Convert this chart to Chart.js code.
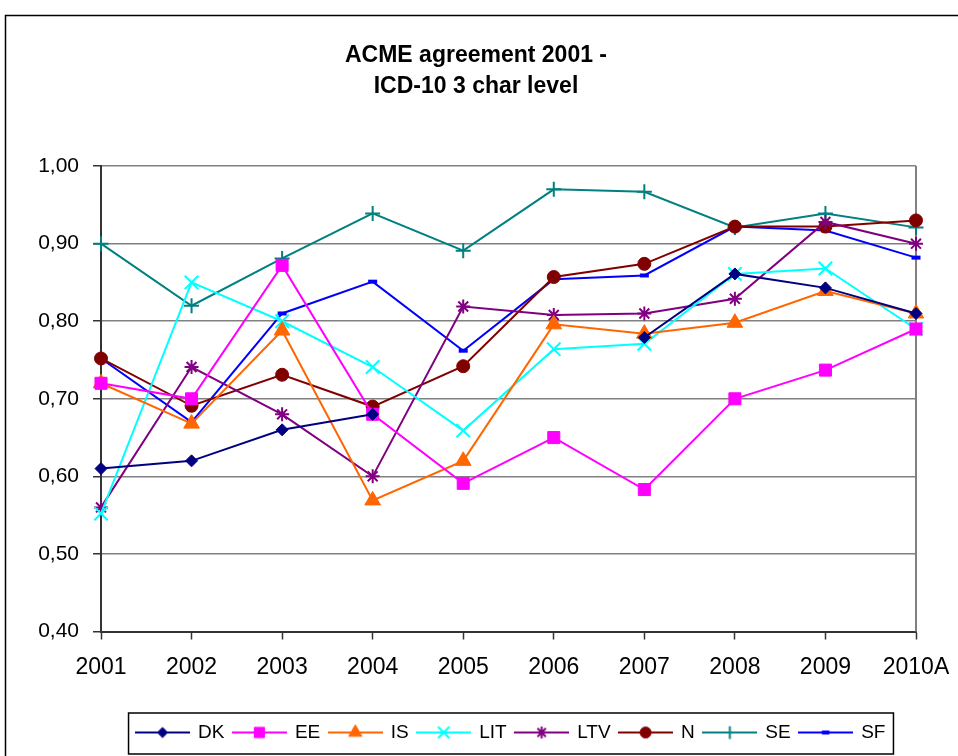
<!DOCTYPE html>
<html>
<head>
<meta charset="utf-8">
<script src="https://cdn.jsdelivr.net/npm/chart.js"></script>
<style>
  body { margin: 0; background: #fff; }
  canvas { display: block; }
</style>
</head>
<body>
<canvas id="myChart" width="958" height="756"></canvas>
<script>
// data
const years = ['2001', '2002', '2003', '2004', '2005', '2006', '2007', '2008', '2009', '2010A'];
const names = ['DK', 'EE', 'IS', 'LIT', 'LTV', 'N', 'SE', 'SF'];

const dataDK  = [0.61, 0.62, 0.66, 0.68, null, null, 0.779, 0.861, 0.843, 0.81];
const dataEE  = [0.72, 0.70, 0.872, 0.68, 0.591, 0.65, 0.583, 0.70, 0.737, 0.79];
const dataIS  = [0.72, 0.668, 0.788, 0.569, 0.62, 0.796, 0.784, 0.798, 0.839, 0.81];
const dataLIT = [0.552, 0.85, 0.80, 0.741, 0.659, 0.764, 0.771, 0.861, 0.868, 0.79];
const dataLTV = [0.56, 0.741, 0.68, 0.60, 0.819, 0.808, 0.81, 0.829, 0.928, 0.90];
const dataN   = [0.752, 0.691, 0.731, 0.69, 0.742, 0.857, 0.874, 0.922, 0.922, 0.93];
const dataSE  = [0.90, 0.82, 0.881, 0.939, 0.891, 0.97, 0.967, 0.921, 0.939, 0.921];
const dataSF  = [0.752, 0.67, 0.81, 0.851, 0.762, 0.854, 0.859, 0.922, 0.917, 0.882];

const series = [dataDK, dataEE, dataIS, dataLIT, dataLTV, dataN, dataSE, dataSF];

// look
const colors = ['#000080', '#ff00ff', '#ff6600', '#00ffff', '#800080', '#800000', '#008080', '#0000ff'];
const pStyles = ['rectRot', 'rect', 'triangle', 'crossRot', 'star', 'circle', 'cross', 'line'];
const pRadius = [6, 8.5, 9, 9.5, 7, 6.5, 7.5, 4.5];
const pBorder = [1, 1, 1, 2, 2, 1, 2, 4];

const FONT = "'Liberation Sans', Arial, sans-serif";
const legendShift = 35;

// little line+marker pictures for the legend
function legendIcon(i) {
  const c = document.createElement('canvas');
  c.width = 55; c.height = 20;
  const g = c.getContext('2d');
  g.strokeStyle = colors[i];
  g.fillStyle = colors[i];
  g.lineWidth = 2;
  g.beginPath(); g.moveTo(0, 10); g.lineTo(55, 10); g.stroke();
  g.lineWidth = pBorder[i];
  Chart.helpers.drawPoint(g, {pointStyle: pStyles[i], radius: pRadius[i] * 0.85, rotation: 0, borderWidth: pBorder[i]}, 27.5, 10);
  return c;
}
const icons = names.map((n, i) => legendIcon(i));

const framePlugin = {
  id: 'frame',
  afterLayout(chart) {
    chart.legend.left += legendShift;
    chart.legend.right += legendShift;
  },
  beforeDraw(chart) {
    const ctx = chart.ctx;
    ctx.save();
    ctx.strokeStyle = '#000';
    ctx.lineWidth = 1.5;
    ctx.strokeRect(5.5, 15.5, 1200, 1200);
    ctx.restore();
  },
  beforeDatasetsDraw(chart) {
    const a = chart.chartArea, ctx = chart.ctx;
    ctx.save();
    ctx.strokeStyle = '#808080';
    ctx.lineWidth = 2;
    ctx.beginPath(); ctx.moveTo(a.right, a.top); ctx.lineTo(a.right, a.bottom); ctx.stroke();
    ctx.restore();
  },
  afterDraw(chart) {
    const hb = chart.legend.legendHitBoxes;
    if (!hb || !hb.length) return;
    const left = Math.min(...hb.map(h => h.left)) - 8;
    const right = Math.max(...hb.map(h => h.left + h.width)) + 8;
    const top = hb[0].top - 10;
    const bottom = hb[0].top + hb[0].height + 12;
    const ctx = chart.ctx;
    ctx.save();
    ctx.strokeStyle = '#000';
    ctx.lineWidth = 1.5;
    ctx.strokeRect(left, top, right - left, bottom - top);
    ctx.restore();
  }
};

const ctx = document.getElementById('myChart');

new Chart(ctx, {
  type: 'line',
  data: {
    labels: years,
    datasets: series.map((d, i) => ({
      label: names[i],
      data: d,
      borderColor: colors[i],
      backgroundColor: colors[i],
      borderWidth: 2,
      pointStyle: pStyles[i],
      pointRadius: pRadius[i],
      pointBorderWidth: pBorder[i],
      pointBackgroundColor: colors[i],
      pointBorderColor: colors[i],
      tension: 0,
      spanGaps: false,
      clip: false
    }))
  },
  options: {
    responsive: false,
    animation: false,
    layout: { padding: { left: 36, right: 42, top: 0, bottom: 4 } },
    plugins: {
      title: {
        display: true,
        text: ['ACME agreement 2001 -', 'ICD-10 3 char level'],
        color: '#000',
        font: { family: FONT, size: 23, weight: 'bold', lineHeight: 1.35 },
        padding: { top: 40, bottom: 64 }
      },
      legend: {
        position: 'bottom',
        labels: {
          usePointStyle: true,
          pointStyleWidth: 52,
          padding: 9,
          color: '#000',
          font: { family: FONT, size: 19 },
          generateLabels: chart => chart.data.datasets.map((ds, i) => ({
            text: ds.label,
            pointStyle: icons[i],
            datasetIndex: i,
            hidden: false,
            fillStyle: ds.borderColor,
            strokeStyle: ds.borderColor,
            lineWidth: 0,
            fontColor: '#000'
          }))
        }
      },
      tooltip: { enabled: false }
    },
    scales: {
      x: {
        offset: false,
        afterFit: scale => {
          scale.height = 82.5;
          scale.paddingLeft = 0;
          scale.paddingRight = 0;
        },
        border: { color: '#333', width: 2 },
        grid: { drawOnChartArea: false, drawTicks: true, tickLength: 8, tickColor: '#333', tickWidth: 1.5 },
        ticks: { color: '#000', padding: 14, maxRotation: 0, font: { family: FONT, size: 23 } }
      },
      y: {
        min: 0.4,
        max: 1.0,
        afterFit: scale => { scale.width = 65; },
        border: { color: '#333', width: 2 },
        grid: { color: '#808080', lineWidth: 1.5, tickLength: 8, tickColor: '#333', tickWidth: 1.5 },
        ticks: {
          stepSize: 0.1,
          color: '#000',
          padding: 14,
          font: { family: FONT, size: 21 },
          callback: v => v.toFixed(2).replace('.', ',')
        }
      }
    }
  },
  plugins: [framePlugin]
});
</script>
</body>
</html>
